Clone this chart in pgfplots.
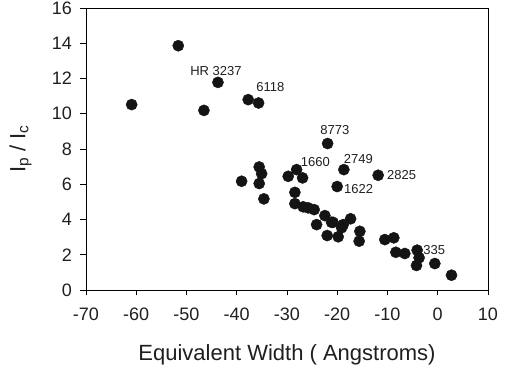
\documentclass[border=0pt]{standalone}
\usepackage{pgfplots}
\usepackage{pgfplotstable}
\pgfplotsset{compat=1.18}
\usepackage{fontspec}
\setmainfont{Liberation Sans}
\pgfplotstableread{
x y
-60.91 10.52
-51.64 13.86
-43.74 11.78
-46.53 10.19
-37.72 10.80
-35.65 10.61
-21.92 8.31
-18.68 6.83
-11.86 6.51
-20.02 5.87
-29.76 6.45
-28.09 6.83
-26.90 6.36
-39.03 6.17
-35.53 6.98
-35.05 6.60
-35.53 6.04
-34.60 5.17
-28.43 5.54
-28.43 4.90
-26.78 4.72
-25.78 4.66
-24.59 4.56
-24.11 3.71
-22.46 4.22
-21.13 3.84
-20.84 3.84
-22.00 3.09
-19.81 3.02
-19.13 3.53
-18.81 3.71
-17.34 4.04
-15.50 3.33
-15.64 2.77
-10.53 2.86
-8.74 2.96
-8.34 2.14
-6.55 2.07
-4.10 2.26
-3.71 1.83
-4.23 1.39
-0.58 1.50
2.74 0.84
}\data
\begin{document}
\begin{tikzpicture}
\useasboundingbox (-86pt,-84pt) rectangle (429pt,290pt);
\begin{axis}[
  scale only axis, width=402pt, height=282pt,
  xmin=-70, xmax=10, ymin=0, ymax=16,
  xtick={-70,-60,...,10}, ytick={0,2,...,16},
  tick align=outside, xtick pos=bottom, ytick pos=left,
  major tick length=5.5pt,
  axis line style={line width=0.9pt},
  tick style={line width=0.9pt, black},
  /pgf/number format/assume math mode=true,
  ticklabel style={font=\fontsize{18}{20}\selectfont, text=black!88},
  xticklabel style={yshift=-9pt},
  yticklabel style={xshift=-5pt},
  xlabel={Equivalent Width ( Angstroms)},
  ylabel={I\textsubscript{p} / I\textsubscript{c}},
  label style={font=\fontsize{22}{24}\selectfont, text=black!88},
  xlabel style={at={(axis description cs:0.5,-0.23)}, anchor=center},
  ylabel style={at={(axis description cs:-0.163,0.5)}, anchor=center},
  clip=false,
]
\addplot[only marks, mark=*, mark size=5.6pt, draw=black!92, fill=black!92] table {\data};
\begin{scope}[every node/.style={font=\fontsize{13}{15}\selectfont, text=black!88}]
\node at (axis cs:-44.14,12.44) {HR 3237};
\node at (axis cs:-33.30,11.50) {6118};
\node at (axis cs:-20.47,9.10) {8773};
\node at (axis cs:-24.35,7.25) {1660};
\node at (axis cs:-15.80,7.45) {2749};
\node at (axis cs:-7.19,6.51) {2825};
\node at (axis cs:-15.74,5.75) {1622};
\node at (axis cs:-0.68,2.26) {335};
\end{scope}
\end{axis}
\end{tikzpicture}
\end{document}
